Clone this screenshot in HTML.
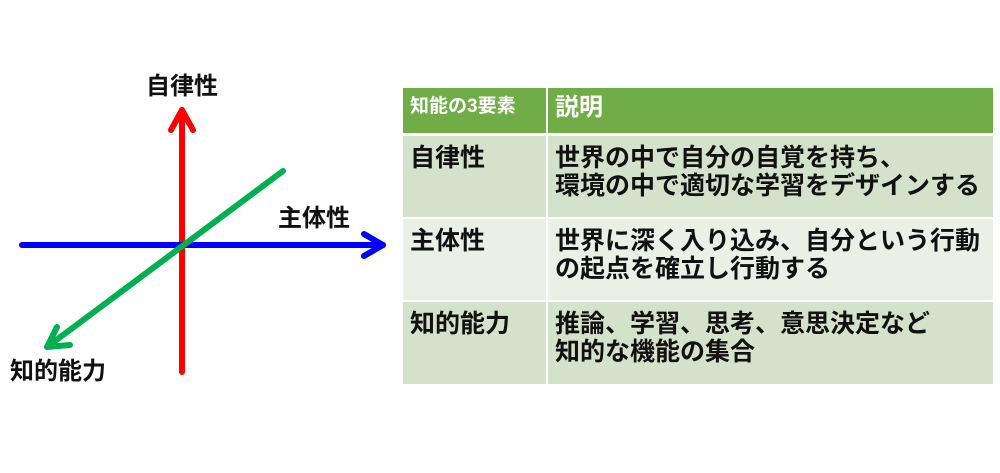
<!DOCTYPE html>
<html><head><meta charset="utf-8"><style>
body{margin:0;width:1000px;height:473px;background:#fff;position:relative;overflow:hidden;font-family:"Liberation Sans","Noto Sans CJK JP",sans-serif;font-weight:bold;color:#111}
.l{position:absolute;font-size:24px;line-height:1}
.c{position:absolute;box-sizing:border-box;padding:8px 7px;font-size:25px;line-height:28px;white-space:nowrap}
</style></head><body>
<svg width="1000" height="473" style="position:absolute;left:0;top:0">
<g fill="none" stroke-width="6" stroke-linecap="round" stroke-linejoin="round">
<line x1="182" y1="372" x2="182" y2="110" stroke="#ff0000"/>
<polyline points="171,130 182,110 193,130" stroke="#ff0000"/>
<line x1="22" y1="245" x2="383" y2="245" stroke="#0000ff"/>
<polyline points="364,234 383,245 364,256" stroke="#0000ff"/>
<line x1="283" y1="171" x2="47" y2="347" stroke="#00b050"/>
<polyline points="57,327 47,347 70,345" stroke="#00b050"/>
</g></svg>
<div class="l" style="left:146px;top:75px">自律性</div>
<div class="l" style="left:278px;top:207px">主体性</div>
<div class="l" style="left:10px;top:360px">知的能力</div>
<div style="position:absolute;left:403px;top:88px;width:590px;height:296px;background:#fff">
<div class="c" style="left:0;top:0;width:143px;height:45px;background:#70ad47;color:#fff;font-size:19px;padding:5px 7px">知能の3要素</div>
<div class="c" style="left:145px;top:0;width:445px;height:45px;background:#70ad47;color:#fff;font-size:24px;padding:6px 7px">説明</div>
<div class="c" style="left:0;top:48px;width:143px;height:81px;background:#d4e2cc">自律性</div>
<div class="c" style="left:145px;top:48px;width:445px;height:81px;background:#d4e2cc">世界の中で自分の自覚を持ち、<br>環境の中で適切な学習をデザインする</div>
<div class="c" style="left:0;top:131px;width:143px;height:81px;background:#eaf0e6">主体性</div>
<div class="c" style="left:145px;top:131px;width:445px;height:81px;background:#eaf0e6">世界に深く入り込み、自分という行動<br>の起点を確立し行動する</div>
<div class="c" style="left:0;top:214px;width:143px;height:82px;background:#d4e2cc">知的能力</div>
<div class="c" style="left:145px;top:214px;width:445px;height:82px;background:#d4e2cc">推論、学習、思考、意思決定など<br>知的な機能の集合</div>
</div>
</body></html>
